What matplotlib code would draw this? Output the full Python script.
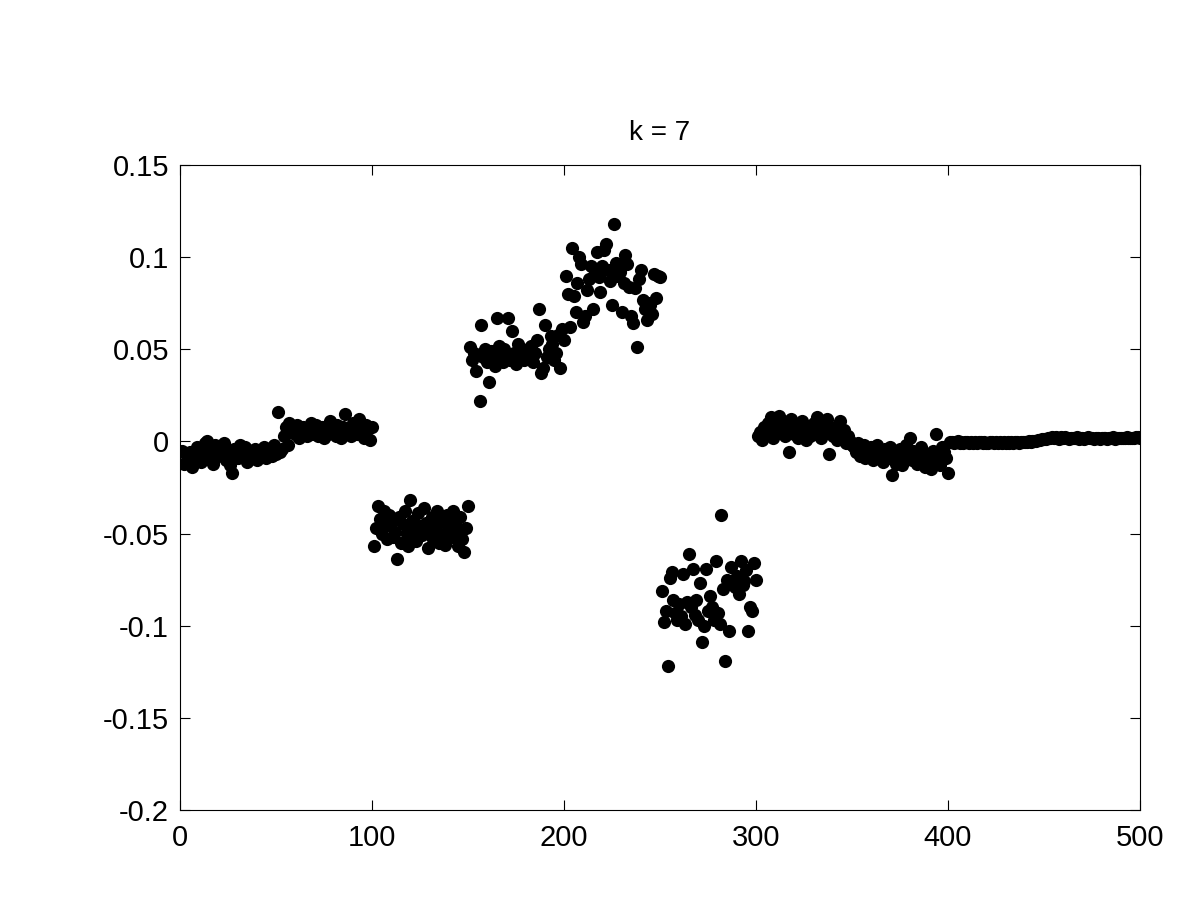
import numpy as np
import matplotlib
matplotlib.use("Agg")
import matplotlib.pyplot as plt

# values, in thousandths, 50 points per block
seg_a = [-5, -12, -7, -9, -6, -14, -8, -10, -3, -6, -11, -7, -1, 0, -4, -9, -12, -2, -5, -8,
         -6, -3, -1, -10, -7, -13, -17, -4, -6, -9, -2, -8, -5, -3, -11, -7, -6, -9, -4, -10,
         -8, -5, -7, -3, -9, -6, -4, -8, -2, -7]
seg_b = [16, -6, -4, 3, 8, -2, 10, 5, 7, 4, 9, 2, 6, 8, 5, 3, 7, 10, 4, 6,
         9, 3, 5, 8, 2, 6, 4, 11, 7, 5, 3, 9, 6, 2, 8, 15, 5, 7, 3, 10,
         6, 4, 12, 8, 5, 2, 9, 7, 1, 8]
seg_c = [-57, -47, -35, -42, -50, -38, -46, -53, -40, -44, -52, -49, -64, -41, -55, -45, -38, -50, -57, -32,
         -43, -48, -54, -39, -46, -51, -36, -44, -58, -49, -41, -53, -47, -38, -55, -43, -50, -56, -40, -46,
         -52, -38, -44, -49, -57, -41, -53, -60, -47, -35]
seg_d = [51, 44, 48, 38, 47, 22, 63, 46, 50, 43, 32, 49, 45, 41, 67, 52, 47, 43, 50, 46,
         67, 44, 60, 48, 42, 53, 46, 50, 44, 49, 47, 45, 52, 43, 48, 55, 72, 37, 40, 63,
         46, 50, 57, 53, 44, 48, 58, 40, 61, 55]
seg_e = [90, 80, 62, 105, 79, 70, 86, 100, 96, 65, 68, 82, 88, 95, 72, 92, 103, 89, 81, 95,
         104, 107, 93, 87, 74, 118, 97, 90, 92, 70, 86, 101, 96, 84, 68, 64, 83, 51, 88, 93,
         77, 72, 66, 75, 74, 69, 91, 78, 90, 89]
seg_f = [-81, -98, -92, -122, -74, -71, -86, -93, -97, -88, -95, -72, -99, -87, -61, -90, -69, -94, -86, -97,
         -77, -109, -100, -69, -92, -84, -90, -97, -65, -93, -99, -40, -80, -119, -75, -103, -68, -76, -79, -73,
         -83, -65, -78, -76, -70, -103, -90, -92, -66, -75]
seg_g = [3, 5, 1, 8, 4, 10, 6, 13, 2, 9, 7, 14, 5, 11, 3, 8, -6, 12, 6, 4,
         9, 2, 7, 11, 5, 1, 8, 3, 6, 10, 4, 13, 7, 2, 9, 5, 12, -7, 6, 3,
         8, 1, 4, 11, 2, 6, -1, 3, 0, -2]
seg_h = [-3, -6, -1, -8, -4, -2, -9, -5, -7, -3, -10, -6, -2, -8, -5, -11, -4, -7, -9, -3,
         -18, -6, -12, -8, -4, -13, -9, -2, -7, 2, -10, -5, -8, -12, -6, -3, -9, -14, -7, -11,
         -15, -5, -10, 4, -8, -13, -3, -6, -9, -17]
seg_i = [-0.5, -0.2, -0.8, -0.3, 0.1, -0.6, -0.4, -0.9, -0.2, -0.5, -0.7, -0.3, -0.6, -0.1, -0.8, -0.4, -0.5, -0.9, -0.3, -0.6,
         -0.7, -0.2, -0.5, -0.8, -0.4, -0.6, -0.3, -0.9, -0.5, -0.7, -0.4, -0.6, -0.2, -0.8, -0.5, -0.3, -0.7, -0.4, -0.1, -0.5,
         -0.2, 0.0, -0.3, 0.2, 0.4, 0.1, 0.6, 0.9, 1.1, 1.3]
seg_j = [1.5, 2.0, 1.6, 2.4, 1.8, 2.6, 1.9, 1.4, 2.2, 1.7, 2.5, 1.8, 1.3, 2.1, 1.6, 1.9, 2.3, 1.5, 1.8, 2.0,
         1.4, 1.7, 2.2, 1.6, 1.9, 1.3, 1.8, 2.1, 1.5, 1.7, 2.0, 1.6, 1.4, 1.9, 1.7, 2.2, 1.5, 1.8, 1.6, 2.0,
         1.7, 1.9, 2.3, 1.8, 1.6, 2.1, 1.9, 2.2, 2.4, 2.0]

xticks = [0, 100, 200, 300, 400, 500]
yticks = [-0.2, -0.15, -0.1, -0.05, 0, 0.05, 0.1, 0.15]
ytick_labels = ["-0.2", "-0.15", "-0.1", "-0.05", "0", "0.05", "0.1", "0.15"]

y = np.concatenate([seg_a, seg_b, seg_c, seg_d, seg_e, seg_f, seg_g, seg_h, seg_i, seg_j]) / 1000.0
x = np.arange(1, len(y) + 1)

plt.rcParams['font.family'] = ['Liberation Sans', 'DejaVu Sans']

fig = plt.figure(figsize=(12, 9), dpi=100)
ax = fig.add_axes([0.15, 0.1, 0.8, 0.7167])

ax.plot(x, y, 'o', color='black', markersize=9.5, markeredgewidth=0)

ax.set_xlim(0, 500)
ax.set_ylim(-0.2, 0.15)
ax.set_xticks(xticks)
ax.set_xticklabels([str(t) for t in xticks])
ax.set_yticks(yticks)
ax.set_yticklabels(ytick_labels)
ax.tick_params(direction='in', length=7, width=0.8, labelsize=21,
               top=True, right=True, pad=10)
ax.tick_params(axis='y', pad=8)
for s in ax.spines.values():
    s.set_linewidth(0.8)

ax.set_title('k = 7', fontsize=20, pad=18)

fig.savefig('out.png', dpi=100, facecolor='white')
